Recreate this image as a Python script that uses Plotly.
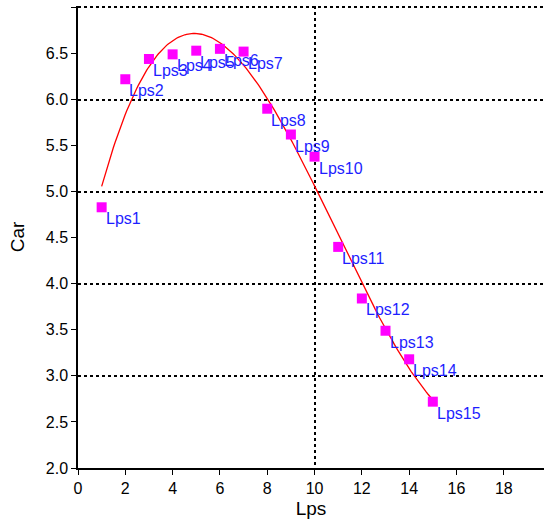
import numpy as np
import plotly.graph_objects as go

labels = ["Lps1", "Lps2", "Lps3", "Lps4", "Lps5", "Lps6", "Lps7", "Lps8",
          "Lps9", "Lps10", "Lps11", "Lps12", "Lps13", "Lps14", "Lps15"]
lps = [1, 2, 3, 4, 5, 6, 7, 8, 9, 10, 11, 12, 13, 14, 15]
car = [4.83, 6.22, 6.44, 6.49, 6.53, 6.55, 6.52, 5.90, 5.62, 5.38, 4.40, 3.84, 3.49, 3.18, 2.72]

# polynomial regression curve through the data
coef = np.polyfit(lps, car, 3)
xf = np.linspace(min(lps), max(lps), 200)
yf = np.polyval(coef, xf)

font = "Liberation Sans, Arial, sans-serif"
XR = [0, 19.7]
YR = [2, 7.015]

fig = go.Figure()
# invisible trace to activate the gridline axes
fig.add_trace(go.Scatter(x=[lps[0]], y=[car[0]], xaxis="x2", yaxis="y2",
                         mode="markers", marker=dict(opacity=0), hoverinfo="skip"))
fig.add_trace(go.Scatter(x=xf, y=yf, mode="lines",
                         line=dict(color="red", width=1.3), hoverinfo="skip"))
fig.add_trace(go.Scatter(x=lps, y=car, mode="markers",
                         marker=dict(symbol="square", size=10, color="#ff00ff")))

for lab, xv, yv in zip(labels, lps, car):
    fig.add_annotation(x=xv, y=yv, text=lab, showarrow=False,
                       xanchor="left", yanchor="top", xshift=2, yshift=-1,
                       font=dict(color="#1e1eff", size=16, family=font))

fig.update_layout(
    width=544, height=521,
    margin=dict(l=78, r=0, t=6, b=53),
    plot_bgcolor="white", paper_bgcolor="white",
    showlegend=False,
    font=dict(family=font, size=16, color="black"),
    xaxis=dict(range=XR, dtick=2, tick0=0, showgrid=False, zeroline=False,
               showline=True, linecolor="black", linewidth=1.5,
               ticks="outside", ticklen=5, tickcolor="black",
               title=dict(text="Lps", standoff=6)),
    yaxis=dict(range=YR, dtick=0.5, tick0=2, showgrid=False, zeroline=False,
               showline=True, linecolor="black", linewidth=1.5,
               ticks="outside", ticklen=5, tickcolor="black", tickformat=".1f",
               title=dict(text="Car", standoff=16)),
    xaxis2=dict(overlaying="x", range=XR, dtick=10, tick0=0, showgrid=True,
                gridcolor="black", griddash="dot", gridwidth=2,
                showticklabels=False, zeroline=False, showline=False),
    yaxis2=dict(overlaying="y", range=YR, dtick=1, tick0=2, showgrid=True,
                gridcolor="black", griddash="dot", gridwidth=2,
                showticklabels=False, zeroline=False, showline=False),
)

fig.write_html("out.html", config={"displayModeBar": False},
               post_script="document.body.style.margin='0';document.body.style.overflow='hidden';")
